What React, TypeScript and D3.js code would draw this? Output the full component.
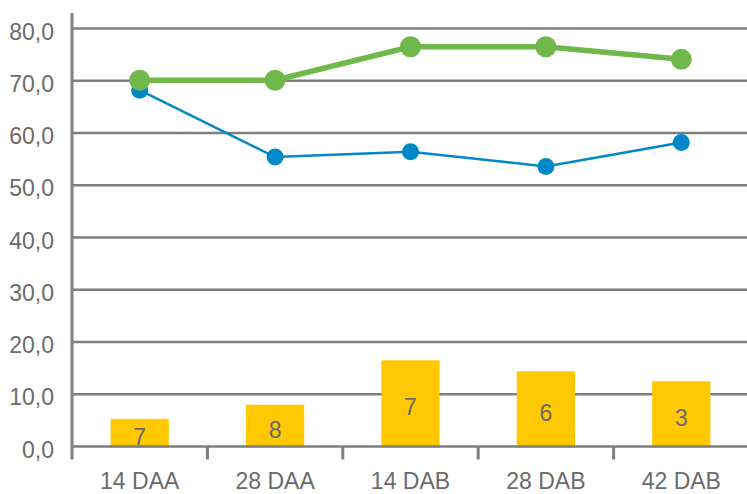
import { useEffect, useRef } from "react";
import * as d3 from "d3";

const categories = ["14 DAA", "28 DAA", "14 DAB", "28 DAB", "42 DAB"];
const barValues = [5.3, 8.0, 16.5, 14.4, 12.5];
const barLabels = ["7", "8", "7", "6", "3"];
const greenValues = [70.1, 70.1, 76.5, 76.5, 74.1];
const blueValues = [68.2, 55.4, 56.4, 53.6, 58.2];
const yTicks = [0, 10, 20, 30, 40, 50, 60, 70, 80];

const W = 747;
const H = 494;

function App() {
  const ref = useRef<SVGSVGElement>(null);

  useEffect(() => {
    if (!ref.current) return;
    const svg = d3.select(ref.current);
    svg.selectAll("*").remove();

    const x0 = 72,
      x1 = 749;
    const x = d3.scaleBand().domain(categories).range([x0, x1]);
    const xb = d3.scaleBand().domain(categories).range([x0, x1]).paddingInner(0.57).paddingOuter(0.285);
    const y = d3.scaleLinear().domain([0, 80]).range([446.5, 28.5]);
    const gray = "#7f7f7f";
    const textColor = "#6b6b6b";
    const font = "'Liberation Sans', Arial, sans-serif";

    // gridlines
    svg
      .append("g")
      .selectAll("line")
      .data(yTicks.filter((d) => d > 0))
      .enter()
      .append("line")
      .attr("x1", x0)
      .attr("x2", W)
      .attr("y1", (d) => y(d))
      .attr("y2", (d) => y(d))
      .attr("stroke", gray)
      .attr("stroke-width", 2.5);

    // y tick labels
    svg
      .append("g")
      .selectAll("text")
      .data(yTicks)
      .enter()
      .append("text")
      .attr("x", 54)
      .attr("y", (d) => y(d) + 11)
      .attr("text-anchor", "end")
      .attr("font-family", font)
      .attr("font-size", 23)
      .attr("fill", textColor)
      .text((d) => d.toFixed(1).replace(".", ","));

    // bars
    svg
      .append("g")
      .selectAll("rect")
      .data(barValues)
      .enter()
      .append("rect")
      .attr("x", (d, i) => xb(categories[i])!)
      .attr("y", (d) => y(d))
      .attr("width", xb.bandwidth())
      .attr("height", (d) => y(0) - y(d) + 1)
      .attr("fill", "#ffc800");

    // x axis line + ticks
    svg
      .append("line")
      .attr("x1", x0)
      .attr("x2", W)
      .attr("y1", y(0))
      .attr("y2", y(0))
      .attr("stroke", gray)
      .attr("stroke-width", 2.5);
    svg
      .append("g")
      .selectAll("line")
      .data(categories.slice(1))
      .enter()
      .append("line")
      .attr("x1", (d) => x(d)!)
      .attr("x2", (d) => x(d)!)
      .attr("y1", y(0))
      .attr("y2", y(0) + 13)
      .attr("stroke", gray)
      .attr("stroke-width", 3);

    // y axis line
    svg
      .append("line")
      .attr("x1", x0)
      .attr("x2", x0)
      .attr("y1", 13)
      .attr("y2", y(0) + 13)
      .attr("stroke", gray)
      .attr("stroke-width", 3);

    // bar labels
    svg
      .append("g")
      .selectAll("text")
      .data(barValues)
      .enter()
      .append("text")
      .attr("x", (d, i) => xb(categories[i])! + xb.bandwidth() / 2)
      .attr("y", (d) => (y(d) + y(0)) / 2 + 12)
      .attr("text-anchor", "middle")
      .attr("font-family", font)
      .attr("font-size", 23)
      .attr("fill", textColor)
      .text((d, i) => barLabels[i]);

    // x labels
    svg
      .append("g")
      .selectAll("text")
      .data(categories)
      .enter()
      .append("text")
      .attr("x", (d) => x(d)! + x.bandwidth() / 2)
      .attr("y", 489)
      .attr("text-anchor", "middle")
      .attr("font-family", font)
      .attr("font-size", 23)
      .attr("fill", textColor)
      .text((d) => d);

    const cx = (i: number) => x(categories[i])! + x.bandwidth() / 2;

    // blue series
    const line = d3
      .line<number>()
      .x((d, i) => cx(i))
      .y((d) => y(d));
    svg
      .append("path")
      .datum(blueValues)
      .attr("d", line)
      .attr("fill", "none")
      .attr("stroke", "#0088c8")
      .attr("stroke-width", 2.5);
    svg
      .append("g")
      .selectAll("circle")
      .data(blueValues)
      .enter()
      .append("circle")
      .attr("cx", (d, i) => cx(i))
      .attr("cy", (d) => y(d))
      .attr("r", 8.5)
      .attr("fill", "#0088c8");

    // green series
    svg
      .append("path")
      .datum(greenValues)
      .attr("d", line)
      .attr("fill", "none")
      .attr("stroke", "#70b84b")
      .attr("stroke-width", 5.5);
    svg
      .append("g")
      .selectAll("circle")
      .data(greenValues)
      .enter()
      .append("circle")
      .attr("cx", (d, i) => cx(i))
      .attr("cy", (d) => y(d))
      .attr("r", 10.5)
      .attr("fill", "#70b84b");
  }, []);

  return (
    <svg
      ref={ref}
      width={W}
      height={H}
      style={{ position: "absolute", left: 0, top: 0, background: "#fff" }}
    />
  );
}

export default App;
